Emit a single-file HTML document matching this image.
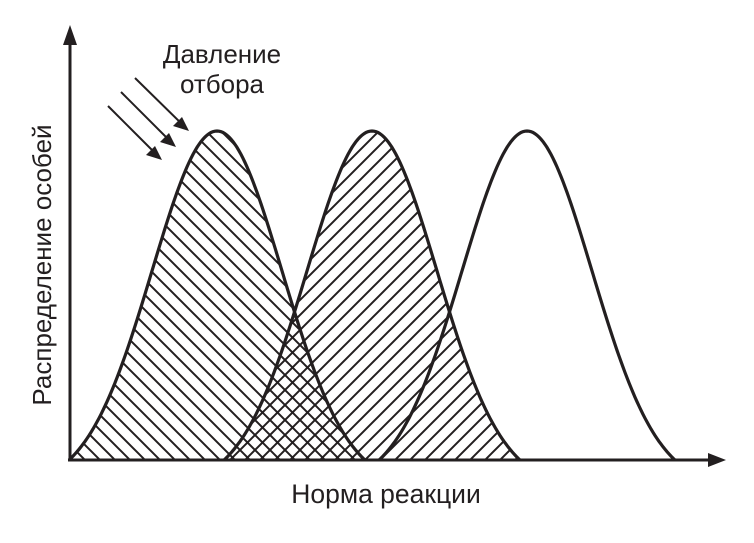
<!DOCTYPE html>
<html><head><meta charset="utf-8"><style>
html,body{margin:0;padding:0;background:#fff}
svg{display:block}
text{font-family:"Liberation Sans",sans-serif;fill:#231f20}
</style></head><body>
<svg id="chart" width="754" height="543" viewBox="0 0 754 543" xmlns="http://www.w3.org/2000/svg">
<defs>
<pattern id="hatchBack" patternUnits="userSpaceOnUse" width="15" height="15">
<path d="M-5,-5 L20,20 M-5,10 L5,20 M10,-5 L20,5" stroke="#231f20" stroke-width="2"/>
</pattern>
<pattern id="hatchFwd" patternUnits="userSpaceOnUse" width="15" height="15">
<path d="M-5,20 L20,-5 M-5,5 L5,-5 M10,20 L20,10" stroke="#231f20" stroke-width="2"/>
</pattern>
</defs>
<g id="curves"></g>
<line x1="68" y1="460" x2="712" y2="460" stroke="#231f20" stroke-width="3"/>
<path d="M726,460 L708,453 L708,467 Z" fill="#231f20"/>
<line x1="70" y1="461" x2="70" y2="40" stroke="#231f20" stroke-width="3"/>
<path d="M70,25 L63,45 L77,45 Z" fill="#231f20"/>
<g stroke="#231f20" stroke-width="2">
<line x1="108" y1="106" x2="160" y2="158"/>
<path d="M162,160 L146,155 L155,146 Z" fill="#231f20" stroke="none"/>
<line x1="121" y1="92" x2="174" y2="145"/>
<path d="M176,147 L160,142 L169,133 Z" fill="#231f20" stroke="none"/>
<line x1="135" y1="78" x2="187" y2="129"/>
<path d="M189,131 L173,126 L182,117 Z" fill="#231f20" stroke="none"/>
</g>
<text x="222" y="63" font-size="26" text-anchor="middle">Давление</text>
<text x="222" y="93" font-size="26" text-anchor="middle">отбора</text>
<text x="386" y="503" font-size="26.5" text-anchor="middle">Норма реакции</text>
<text x="0" y="0" font-size="26" text-anchor="middle" transform="translate(51,265) rotate(-90)">Распределение особей</text>
</svg>
<script>
const peaks = [217, 372, 527];
const heights = [1, 1, 1];
const fills = ['url(#hatchBack)', 'url(#hatchFwd)', 'none'];
const names = ['distribution-1', 'distribution-2', 'distribution-3'];
const HALF = 148, SIG = 65, BASE = 460, TOP = 131;
function yScale(v){ return BASE - v * (BASE - TOP); }
function shape(d){
  const c = Math.exp(-HALF*HALF/(2*SIG*SIG));
  return (Math.exp(-d*d/(2*SIG*SIG)) - c) / (1 - c);
}
const g = document.getElementById('curves');
const NS = 'http://www.w3.org/2000/svg';
function pathFor(p, h){
  let d = '';
  for (let x = -HALF; x <= HALF; x += 2) {
    d += (x === -HALF ? 'M' : 'L') + (p + x).toFixed(1) + ',' + yScale(h * shape(x)).toFixed(1);
  }
  return d;
}
peaks.forEach((p, i) => {
  if (fills[i] !== 'none') {
    const f = document.createElementNS(NS, 'path');
    f.setAttribute('d', pathFor(p, heights[i]) + 'Z');
    f.setAttribute('fill', fills[i]);
    
    
    g.appendChild(f);
  }
});
peaks.forEach((p, i) => {
  const s = document.createElementNS(NS, 'path');
  s.setAttribute('d', pathFor(p, heights[i]));
  s.setAttribute('fill', 'none');
  s.setAttribute('stroke', '#231f20');
  s.setAttribute('stroke-width', '3.2');
  
  
  g.appendChild(s);
});
</script>
</body></html>
